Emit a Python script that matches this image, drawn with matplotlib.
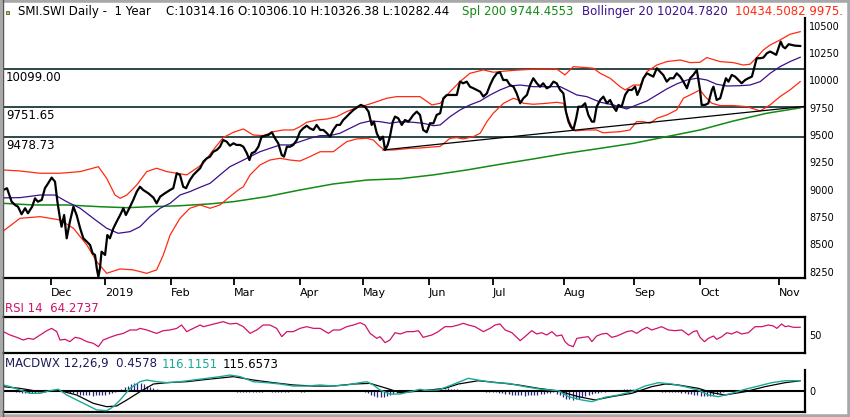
import numpy as np
import matplotlib
matplotlib.use('Agg')
import matplotlib.pyplot as plt
from matplotlib.patches import Rectangle
from matplotlib.lines import Line2D

plt.rcParams['font.family'] = 'DejaVu Sans'

# x = trading day counted from the left edge of the chart (about 12 Nov 2018)
close = [
    (0.1, 8997), (1.25, 9013), (2.7, 8890), (3.75, 8860), (4.7, 8844), (5.8, 8775), (6.9, 8830), (7.8, 8784), (9.1, 8844), (10, 8921),
    (10.9, 8890), (12.1, 8906), (13.1, 9013), (14.1, 9058), (15.2, 9110), (16.25, 9073), (17, 8890), (17.8, 8738), (18.3, 8661), (19.1, 8768),
    (19.9, 8555), (20.9, 8707), (22, 8844), (23, 8768), (24.1, 8647), (25.1, 8555), (26.2, 8524), (27.2, 8494), (28, 8418), (28.75, 8403),
    (29.3, 8281), (29.8, 8204), (30.3, 8281), (30.8, 8433), (31.9, 8403), (32.6, 8585), (33.4, 8555), (34.5, 8647), (35.5, 8707), (36.6, 8768),
    (37.6, 8830), (38.4, 8768), (39.7, 8844), (40.7, 8906), (41.8, 8982), (42.8, 9027), (43.8, 8997), (45.4, 8967), (47, 8927), (48, 8875),
    (49.1, 8936), (50.6, 8967), (52.2, 8997), (53.2, 9013), (54.3, 9150), (55.3, 9135), (56.3, 9027), (57.2, 9013), (58.4, 9088), (59.5, 9135),
    (60.5, 9165), (61.6, 9196), (62.6, 9256), (63.7, 9287), (64.7, 9302), (65.7, 9347), (66.8, 9363), (67.8, 9393), (68.8, 9454), (69.9, 9439),
    (70.9, 9402), (72, 9424), (73, 9409), (74.1, 9409), (75.1, 9393), (76.2, 9333), (77, 9271), (77.7, 9333), (78.75, 9347), (79.8, 9393),
    (80.8, 9485), (81.9, 9494), (82.9, 9500), (84, 9525), (85, 9470), (86, 9424), (87.1, 9317), (87.8, 9302), (88.7, 9393), (89.7, 9393),
    (90.7, 9409), (91.8, 9454), (92.8, 9530), (93.8, 9561), (94.9, 9585), (95.9, 9561), (97, 9546), (98, 9592), (99.1, 9546), (100.1, 9546),
    (101.2, 9516), (102.2, 9485), (103.2, 9546), (104.3, 9592), (105.3, 9592), (106.3, 9637), (107.4, 9668), (108.4, 9699), (109.5, 9729), (110.5, 9750),
    (111.8, 9775), (113.1, 9759), (114.2, 9714), (115.2, 9592), (115.9, 9622), (116.8, 9516), (117.8, 9454), (118.7, 9485), (119.4, 9363), (120.2, 9409),
    (120.9, 9485), (121.8, 9622), (122.5, 9668), (123.5, 9653), (124.6, 9592), (125.6, 9637), (126.7, 9622), (128.2, 9683), (129.3, 9714), (130.3, 9683),
    (131.3, 9546), (132.4, 9525), (133.4, 9607), (134.5, 9607), (135.5, 9683), (136.6, 9699), (137.6, 9836), (138.7, 9866), (139.7, 9866), (140.7, 9866),
    (141.8, 9866), (142.8, 9988), (143.8, 9973), (144.9, 9988), (145.9, 9942), (147, 9927), (148, 9912), (149.1, 9896), (150.1, 9851), (151.2, 9881),
    (152.2, 9957), (153.2, 10019), (154.3, 10064), (155.3, 10074), (156.3, 10003), (157.4, 10003), (158.4, 9957), (159.5, 9942), (160.5, 9881), (161.6, 9790),
    (162.6, 9836), (163.7, 9866), (164.7, 9957), (165.7, 10019), (166.8, 9973), (167.8, 9942), (168.8, 9973), (169.9, 9927), (170.9, 9942), (172, 9988),
    (173, 9973), (174.1, 9912), (175.1, 9881), (175.9, 9714), (176.7, 9622), (177.4, 9577), (178.2, 9546), (179.1, 9653), (179.8, 9759), (180.8, 9759),
    (181.9, 9790), (182.9, 9683), (184, 9622), (184.7, 9622), (185.5, 9759), (186.6, 9820), (187.6, 9851), (188.7, 9790), (189.7, 9820), (190.7, 9759),
    (191.6, 9720), (192.3, 9775), (193.3, 9759), (194.4, 9866), (195.4, 9912), (196.5, 9912), (197.5, 9942), (198.2, 9866), (199.1, 9927), (200.1, 10019),
    (201.2, 10064), (202.2, 10049), (203.2, 10034), (204.3, 10110), (205.3, 10079), (206.3, 10049), (207.4, 9988), (208.4, 10019), (209.5, 10019), (210.5, 10064),
    (211.6, 10034), (212.6, 9988), (213.7, 9927), (214.7, 10019), (215.7, 10049), (216.8, 10095), (217.8, 9912), (218.3, 9775), (219.4, 9775), (220.4, 9790),
    (221.5, 9912), (222, 9942), (223, 9820), (224.1, 9836), (225.1, 9942), (225.9, 10019), (226.7, 9988), (227.7, 10049), (228.75, 10034), (229.8, 10003),
    (230.8, 9973), (231.9, 10003), (232.9, 10019), (234, 10034), (234.7, 10110), (235.5, 10202), (236.6, 10202), (237.6, 10208), (238.7, 10248), (239.7, 10263),
    (240.7, 10248), (241.6, 10233), (242.3, 10293), (243, 10354), (243.7, 10308), (244.4, 10293), (245.5, 10330), (246.5, 10323), (247.5, 10317), (249.1, 10314),
]

boll_upper = [
    (0.1, 9180), (5.3, 9171), (11.6, 9150), (17.8, 9150), (24.1, 9165), (29.8, 9210), (32.4, 9104), (35, 8951), (36.6, 8921), (38.7, 8951),
    (41.8, 9043), (44.9, 9165), (48, 9196), (51.2, 9165), (54.3, 9150), (57.4, 9135), (60.5, 9196), (62.6, 9241), (65.7, 9363), (68.8, 9476),
    (72, 9525), (75.1, 9555), (78.2, 9500), (81.3, 9494), (84.5, 9530), (87.6, 9546), (90.7, 9546), (92.8, 9576), (94.9, 9616), (98, 9637),
    (101.2, 9646), (104.3, 9668), (107.4, 9714), (110.5, 9750), (113.7, 9775), (116.8, 9805), (119.9, 9836), (123, 9851), (127.2, 9851), (130.3, 9851),
    (134, 9775), (136.6, 9790), (139.7, 9896), (142.8, 9988), (145.9, 10064), (150.1, 10095), (153.2, 10074), (157.4, 10086), (161.6, 10095), (165.7, 10101),
    (169.9, 10104), (173, 10104), (175.6, 10049), (178.2, 10125), (182.4, 10116), (184.5, 10110), (186.6, 10064), (189.7, 10019), (192.8, 9942), (194.4, 9912),
    (197, 9957), (199.1, 9957), (201.2, 10079), (204.3, 10140), (207.4, 10171), (211.6, 10186), (214.7, 10162), (217.8, 10165), (219.9, 10208), (224.1, 10171),
    (228.2, 10162), (231.3, 10140), (233.4, 10147), (235.5, 10208), (237.6, 10278), (239.7, 10323), (242.8, 10369), (245.9, 10421), (249.1, 10445),
]

boll_mid = [
    (0.1, 8925), (5.3, 8927), (11.6, 8951), (16.25, 8951), (19.9, 8890), (24.1, 8830), (28.2, 8738), (32.4, 8647), (36, 8601), (39.7, 8616),
    (42.8, 8661), (45.9, 8753), (49.1, 8830), (52.2, 8875), (55.3, 8951), (58.4, 8982), (61.6, 9022), (64.7, 9058), (67.8, 9135), (70.9, 9210),
    (74.1, 9256), (77.2, 9302), (80.3, 9347), (83.4, 9378), (86.6, 9409), (89.7, 9409), (92.8, 9439), (95.9, 9470), (99.1, 9494), (102.2, 9494),
    (105.3, 9516), (108.4, 9561), (111.6, 9607), (114.7, 9628), (117.8, 9622), (120.9, 9607), (124.1, 9622), (128.2, 9616), (131.3, 9607), (134.5, 9585),
    (136.6, 9592), (139.7, 9668), (142.8, 9729), (145.9, 9775), (149.1, 9811), (152.2, 9866), (155.3, 9912), (158.4, 9948), (161.6, 9957), (165.7, 9942),
    (169.9, 9942), (174.1, 9942), (176.2, 9912), (179.3, 9866), (182.4, 9851), (186.6, 9800), (190.7, 9775), (194.9, 9738), (198, 9775), (201.2, 9811),
    (204.3, 9866), (207.4, 9921), (210.5, 9967), (213.7, 10003), (216.8, 10019), (219.9, 10003), (223, 9964), (226.2, 9948), (230.3, 9951), (233.4, 9957),
    (236.6, 9988), (239.7, 10064), (242.8, 10125), (245.9, 10171), (249.1, 10211),
]

boll_lower = [
    (0.1, 8622), (5.3, 8738), (11.6, 8753), (17.8, 8723), (22, 8647), (26.2, 8494), (29.3, 8341), (32.4, 8235), (36.6, 8275), (40.7, 8266),
    (44.9, 8235), (48, 8266), (50.1, 8403), (52.2, 8585), (55.3, 8738), (58.4, 8830), (61.6, 8860), (64.7, 8830), (67.8, 8860), (70.9, 8936),
    (73.5, 8997), (75.1, 9027), (77.2, 9135), (80.3, 9226), (83.4, 9271), (86.6, 9287), (89.7, 9271), (92.8, 9262), (95.9, 9302), (99.1, 9347),
    (103.2, 9347), (105.3, 9393), (107.4, 9439), (110.5, 9464), (113.7, 9470), (115.7, 9454), (117.8, 9393), (119.4, 9363), (122, 9363), (127.2, 9378),
    (130.3, 9381), (136.6, 9396), (139.7, 9470), (141.8, 9476), (143.8, 9464), (147, 9485), (149.1, 9516), (151.2, 9622), (153.2, 9699), (156.4, 9790),
    (159.5, 9836), (161, 9820), (162.6, 9790), (165.7, 9781), (169.9, 9790), (173, 9799), (175.1, 9790), (176.2, 9683), (177.7, 9577), (178.8, 9537),
    (182.4, 9546), (185.5, 9546), (187.5, 9520), (189.7, 9525), (192.8, 9530), (195.9, 9546), (198, 9622), (200.1, 9622), (202.2, 9607), (204.3, 9653),
    (207.4, 9683), (210.5, 9729), (212.6, 9836), (215.7, 9881), (217.8, 9912), (219.4, 9851), (221.5, 9790), (224.1, 9769), (228.2, 9769), (232.4, 9759),
    (236.6, 9720), (239.7, 9775), (242.8, 9851), (245.9, 9912), (249.1, 9988),
]

sma200 = [
    (0.1, 8875), (9.5, 8860), (19.9, 8860), (30.3, 8844), (38.7, 8835), (45.9, 8844), (55.3, 8853), (64.7, 8870), (72, 8890), (82.4, 8936),
    (92.8, 8997), (103.2, 9052), (113.7, 9088), (124.1, 9100), (134.5, 9135), (144.9, 9180), (155.3, 9232), (165.7, 9281), (176.2, 9333), (186.6, 9378),
    (197, 9424), (207.4, 9485), (217.8, 9546), (228.2, 9628), (238.7, 9699), (249.1, 9748),
]

trend_day = [118.75, 250.6]
trend_val = [9363, 9762]

levels = [10099.00, 9751.65, 9478.73]
level_labels = ['10099.00', '9751.65', '9478.73']

rsi = [
    (0.1, 56.2), (2.2, 50), (4.3, 45.7), (6.3, 40.7), (7.9, 43.8), (9.5, 42), (11.6, 50), (13.7, 58), (15.2, 62.3), (16.8, 56.2),
    (17.8, 40.7), (19.4, 42), (20.9, 37.7), (22.5, 45.7), (24.1, 43.8), (26.2, 37.7), (28.2, 34.6), (29.8, 28.4), (31.3, 40.7), (33.4, 45.7),
    (35.5, 50), (37.6, 53), (39.7, 59.3), (41.8, 59.3), (42.8, 62.3), (44.9, 59.3), (48, 53), (50.1, 58), (52.2, 59.3), (54.3, 62.3),
    (55.8, 68.5), (57.4, 56.2), (59.5, 62.3), (61.6, 68.5), (62.6, 65.4), (64.7, 68.5), (66.8, 71.6), (68.8, 74.7), (70.9, 70.4), (73, 71.6),
    (75.1, 65.4), (77.2, 53), (79.3, 59.3), (81.3, 68.5), (83.4, 68.5), (85.5, 62.3), (87.1, 46.9), (88.7, 56.2), (90.7, 56.2), (92.8, 62.3),
    (94.9, 65.4), (97, 62.3), (99.1, 62.3), (101.7, 53), (103.2, 59.3), (105.3, 59.3), (107.4, 65.4), (109.5, 68.5), (111.6, 72.8), (113.1, 68.5),
    (114.7, 53), (116.8, 43.8), (117.8, 46.9), (119.4, 35.8), (120.9, 40.7), (122.5, 54.3), (124.1, 51.9), (126.2, 56.2), (128.2, 56.2), (129.8, 58),
    (131.3, 45.7), (134, 50), (136, 56.2), (138.1, 65.4), (140.2, 65.4), (142.3, 68.5), (143.8, 71.6), (145.4, 68.5), (147.5, 65.4), (150.1, 56.2),
    (152.2, 62.3), (153.75, 68.5), (155.3, 70.4), (156.9, 59.3), (159, 54.3), (161.6, 39.5), (163.1, 46.9), (165.2, 58), (166.8, 51.9), (168.3, 54.3),
    (169.9, 50), (171.5, 56.2), (173, 48.1), (174.6, 50), (175.6, 37.7), (176.7, 31.5), (178.2, 28.4), (179.3, 43.8), (181.3, 45.7), (182.9, 46.9),
    (184, 37.7), (185.5, 48.1), (187.1, 51.9), (188.7, 53), (190.2, 45.7), (191.8, 48.1), (193.3, 51.9), (194.9, 56.2), (196.5, 58), (198, 53),
    (199.6, 59.3), (201.2, 64.2), (202.7, 59.3), (204.3, 62.3), (205.8, 65.4), (207.9, 59.3), (210, 58), (212.1, 59.3), (214.2, 50), (215.7, 56.2),
    (216.8, 58), (217.8, 45.7), (219.2, 37.7), (220.4, 43.8), (222, 48.1), (223, 42), (224.6, 46.9), (226.2, 54.3), (227.7, 51.9), (229.3, 56.2),
    (230.8, 51.9), (232.9, 54.3), (235, 65.4), (237.1, 65.4), (239.2, 68.5), (240.7, 66.7), (241.8, 62.3), (243.3, 70.4), (244.4, 65.4), (245.4, 66.7),
    (247, 64.2), (249.1, 64.27),
]

macd = [
    (0.1, 68), (2.2, 49), (5.3, 11), (8.4, -26), (11.6, -26), (14.7, 4), (17.3, 19), (19.9, -45), (23, -101), (26.2, -158),
    (29.3, -214), (32.4, -222), (34.5, -177), (36.6, -101), (39.7, 30), (42.8, 105), (44.9, 124), (48, 105), (51.2, 94), (55.3, 105),
    (59.5, 124), (63.7, 143), (67.8, 162), (70.9, 180), (74.1, 162), (78.2, 105), (82.4, 94), (86.6, 79), (90.7, 56), (94.9, 56),
    (99.1, 68), (103.2, 56), (107.4, 68), (111.6, 94), (113.7, 105), (115.7, 68), (117.8, 11), (120.9, -34), (124.1, -34), (127.2, -8),
    (130.3, 19), (131.9, 8), (136, 11), (140.2, 68), (145.4, 143), (149.6, 116), (153.75, 94), (157.9, 86), (163.1, 49), (168.3, 19),
    (173.5, 4), (176.7, -64), (180.8, -101), (184, -120), (188.1, -71), (192.3, -45), (196.5, -8), (200.6, 56), (204.8, 94), (209, 79),
    (213.1, 49), (217.3, 11), (220.4, -45), (223.5, -64), (227.7, -26), (231.9, 19), (236, 56), (240.2, 94), (244.4, 116), (249.1, 116.1),
]

macd_signal = [
    (0.1, 49), (5.3, 30), (11.6, -8), (17.8, 4), (23, -45), (28.2, -139), (32.4, -177), (35.5, -169), (38.7, -101), (42.8, -8),
    (47, 79), (51.2, 94), (57.4, 105), (63.7, 131), (72, 162), (78.2, 124), (84.5, 94), (90.7, 68), (97, 56), (103.2, 56),
    (109.5, 79), (114.7, 86), (119.9, 30), (124.1, -19), (130.3, 0), (138.1, 30), (142.3, 79), (148.5, 116), (154.8, 94), (161, 68),
    (167.3, 30), (173.5, 0), (179.8, -64), (185, -101), (190.2, -64), (196.5, -26), (202.7, 49), (206.9, 79), (211, 68), (217.3, 30),
    (221.5, -19), (225.6, -45), (231.9, -8), (238.1, 49), (244.4, 94), (249.1, 115.7),
]

# one histogram bar per trading day, day 0 .. 250
macd_hist = [
    10, 8, 5, 0, -8, -15, -18, -20, -22, -20,
    -18, -15, -12, -8, -5, -3, 0, 5, 8, 3,
    -10, -20, -28, -35, -40, -45, -48, -50, -52, -50,
    -48, -45, -40, -30, -20, -10, 5, 20, 40, 60,
    75, 85, 88, 85, 75, 60, 45, 30, 18, 10,
    5, 0, -3, -5, -5, -3, 0, 3, 5, 8,
    10, 10, 12, 10, 8, 8, 10, 12, 10, 8,
    5, 0, -5, -10, -12, -15, -15, -12, -10, -8,
    -8, -8, -5, -5, -8, -10, -12, -12, -10, -8,
    -5, -3, -5, -8, -8, -5, -3, 0, 3, 5,
    5, 3, 0, 3, 5, 8, 10, 12, 12, 10,
    8, 5, 0, -10, -25, -40, -55, -65, -70, -65,
    -55, -45, -35, -25, -15, -8, 0, 5, 10, 12,
    12, 10, 8, 8, 10, 15, 20, 25, 28, 30,
    28, 25, 20, 15, 10, 5, 3, 0, -3, -5,
    -5, -8, -10, -12, -15, -20, -25, -30, -35, -40,
    -45, -48, -50, -52, -50, -48, -45, -40, -35, -30,
    -25, -20, -15, -30, -50, -70, -85, -95, -100, -95,
    -85, -70, -55, -40, -30, -25, -20, -15, -10, -5,
    0, 5, 10, 15, 18, 20, 20, 18, 15, 12,
    8, 5, 3, 0, -3, -5, -8, -8, -10, -10,
    -12, -15, -20, -25, -30, -35, -40, -50, -58, -62,
    -60, -55, -45, -35, -25, -15, -5, 5, 10, 15,
    15, 15, 12, 10, 8, 5, 5, 3, 3, 5,
    5, 5, 3, 3, 2, 2, 1, 1, 0.5, 0.5,
    0.5,
]

month_day = [15.0, 31.9, 52.5, 72.2, 92.8, 112.4, 133.1, 153.0, 175.4, 197.2, 217.9, 242.5]
month_labels = ['Dec', '2019', 'Feb', 'Mar', 'Apr', 'May', 'Jun', 'Jul', 'Aug', 'Sep', 'Oct', 'Nov']
price_ticks = [8250, 8500, 8750, 9000, 9250, 9500, 9750, 10000, 10250, 10500]

W, H = 850, 417
def box(x0, y0, x1, y1):
    return [x0 / W, 1 - y1 / H, (x1 - x0) / W, (y1 - y0) / H]

def xy(pts):
    d, v = zip(*pts)
    return np.array(d), np.array(v)

fig = plt.figure(figsize=(8.5, 4.17), dpi=100)
fig.patch.set_facecolor('white')

XMAX = 250.6
LVL_COL = '#2c4848'

# ---- price panel
ax = fig.add_axes(box(3, 18, 805, 278))
for lv, lab in zip(levels, level_labels):
    ax.axhline(lv, color=LVL_COL, lw=1.4, zorder=1)
    ax.annotate(lab, (0.5, lv), xytext=(1, -6), textcoords='offset points',
                fontsize=8.5, va='center', ha='left', color='black')
ax.plot(*xy(sma200), color='#138a13', lw=1.1, zorder=2)
ax.plot(*xy(boll_upper), color='#ff2a10', lw=0.9, zorder=2)
ax.plot(*xy(boll_lower), color='#ff2a10', lw=0.9, zorder=2)
ax.plot(*xy(boll_mid), color='#3c0f8c', lw=0.9, zorder=2)
ax.plot(trend_day, trend_val, color='black', lw=0.9, zorder=3)
ax.plot(*xy(close), color='black', lw=1.6, zorder=4)

ax.set_xlim(0, XMAX)
ax.set_ylim(8192, 10570)
ax.yaxis.tick_right()
ax.set_yticks(price_ticks)
ax.set_yticklabels([str(t) for t in price_ticks])
ax.tick_params(axis='y', length=0, pad=3, labelsize=7)
ax.set_xticks(month_day)
ax.set_xticklabels(month_labels, ha='left')
ax.tick_params(axis='x', length=5, width=1.3, pad=2, labelsize=8)
ax.spines['top'].set_visible(False)
ax.spines['left'].set_visible(False)
ax.spines['right'].set_linewidth(1.6)
ax.spines['bottom'].set_linewidth(1.6)

# ---- RSI panel
ax2 = fig.add_axes(box(3, 317, 805, 353))
ax2.plot(*xy(rsi), color='#d0136a', lw=0.9)
ax2.set_xlim(0, XMAX)
ax2.set_ylim(16.7, 83.3)
ax2.set_xticks([])
ax2.yaxis.tick_right()
ax2.set_yticks([50])
ax2.tick_params(axis='y', length=0, pad=3, labelsize=7)
ax2.spines['left'].set_visible(False)
for s in ['top', 'bottom', 'right']:
    ax2.spines[s].set_linewidth(1.6)

# ---- MACD panel
ax3 = fig.add_axes(box(3, 370, 805, 412))
hist_day = np.arange(len(macd_hist))
ax3.vlines(hist_day, 0, macd_hist, color='#262680', lw=0.9, zorder=1)
ax3.axhline(0, color='black', lw=1.5, zorder=2)
ax3.plot(*xy(macd_signal), color='black', lw=0.9, zorder=3)
ax3.plot(*xy(macd), color='#1aa894', lw=1.0, zorder=4)
ax3.set_xlim(0, XMAX)
ax3.set_ylim(-237, 237)
ax3.set_xticks([])
ax3.yaxis.tick_right()
ax3.set_yticks([0])
ax3.tick_params(axis='y', length=0, pad=3, labelsize=7)
ax3.spines['left'].set_visible(False)
ax3.spines['top'].set_visible(False)
ax3.spines['right'].set_linewidth(1.6)
ax3.spines['bottom'].set_linewidth(1.6)

# ---- header / panel titles
def ftext(x, y, s, color='black', size=8.5):
    return fig.text(x / W, 1 - y / H, s, color=color, fontsize=size, va='center', ha='left')

def chain(x, y, parts, gap=5):
    # put coloured pieces one after another on a line
    r = fig.canvas.get_renderer()
    for s, c in parts:
        t = ftext(x, y, s, color=c)
        x = t.get_window_extent(renderer=r).x1 + gap

ftext(18, 11.5, 'SMI.SWI Daily -  1 Year')
ftext(166, 11.5, 'C:10314.16 O:10306.10 H:10326.38 L:10282.44')
ftext(462, 11.5, 'Spl 200 9744.4553', color='#138a13')
ftext(582, 11.5, 'Bollinger 20 10204.7820', color='#3c0f8c')
ftext(735, 11.5, '10434.5082 9975.', color='#ff2a10')
fig.add_artist(Rectangle((6 / W, 1 - 14 / H), 3 / W, 3 / H, transform=fig.transFigure,
                         facecolor='#c8c060', edgecolor='#404020', lw=0.5))

ftext(5, 308, 'RSI 14  64.2737', color='#d0136a')
chain(5, 364, [('MACDWX 12,26,9  0.4578', '#1c1c5c'),
               ('116.1151', '#1aa894'),
               ('115.6573', 'black')])

# outer window frame
fig.add_artist(Line2D([3 / W, 3 / W], [0, 1], transform=fig.transFigure, color='#555555', lw=1.0))
fig.add_artist(Rectangle((0, 0), 1, 1, transform=fig.transFigure, fill=False,
                         edgecolor='#a8a8a8', lw=4))

fig.savefig('out.png', dpi=100)
